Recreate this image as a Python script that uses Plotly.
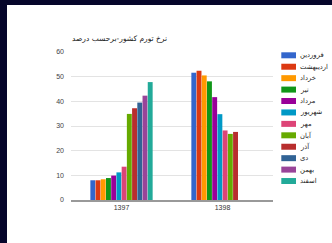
import plotly.graph_objects as go

categories = ["1397", "1398"]
months = ["فروردین", "اردیبهشت", "خرداد", "تیر", "مرداد", "شهریور",
          "مهر", "آبان", "آذر", "دی", "بهمن", "اسفند"]
values_1397 = [8.0, 8.0, 8.4, 8.9, 9.9, 11.2, 13.5, 34.9, 37.2, 39.5, 42.3, 47.8]
values_1398 = [51.6, 52.4, 50.5, 48.1, 41.7, 34.8, 28.2, 26.8, 27.6, None, None, None]
colors = ["#3366cc", "#dc3912", "#ff9900", "#109618", "#990099", "#0099c6",
          "#dd4477", "#66aa00", "#b82e2e", "#316395", "#994499", "#22aa99"]
title_text = "نرخ تورم کشور-برحسب درصد"
y_ticks = [0, 10, 20, 30, 40, 50, 60]

W, H = 332, 243
L, R, T, B = 71, 59, 52, 43
pw, ph = W - L - R, H - T - B


def px(x):
    return (x - L) / pw


def py(y):
    return (H - B - y) / ph


fig = go.Figure()
for i, m in enumerate(months):
    fig.add_trace(go.Bar(
        x=categories, y=[values_1397[i], values_1398[i]], name=m,
        marker=dict(color=colors[i], line=dict(width=0)),
        showlegend=False, hoverinfo="skip"))

shapes = [
    dict(type="rect", xref="paper", yref="paper", x0=px(0), x1=px(W), y0=py(5), y1=py(0),
         fillcolor="#06062b", line=dict(width=0), layer="below"),
    dict(type="rect", xref="paper", yref="paper", x0=px(0), x1=px(7), y0=py(H), y1=py(0),
         fillcolor="#06062b", line=dict(width=0), layer="below"),
]
annotations = [
    dict(text=title_text, xref="paper", yref="paper", x=px(70), y=py(38),
         xanchor="left", yanchor="middle", showarrow=False,
         font=dict(family="DejaVu Sans", size=7.5, color="#222222")),
]
for i, m in enumerate(months):
    cy = 55.3 + i * 11.43
    shapes.append(dict(type="rect", xref="paper", yref="paper",
                       x0=px(281.3), x1=px(296), y0=py(cy - 3), y1=py(cy + 3),
                       fillcolor=colors[i], line=dict(width=0)))
    annotations.append(dict(text=m, xref="paper", yref="paper", x=px(298), y=py(cy),
                            xanchor="left", yanchor="middle", showarrow=False,
                            font=dict(family="DejaVu Sans", size=6.8, color="#222222")))

fig.update_layout(
    width=W, height=H,
    margin=dict(l=L, r=R, t=T, b=B, pad=0),
    paper_bgcolor="white", plot_bgcolor="rgba(0,0,0,0)",
    barmode="group", bargap=0.38, bargroupgap=0.06,
    shapes=shapes, annotations=annotations,
    xaxis=dict(showgrid=False, showline=True, linecolor="#999999", linewidth=2,
               ticks="", tickfont=dict(family="Liberation Sans", size=7, color="#333333"),
               fixedrange=True),
    yaxis=dict(range=[0, 60], tickvals=y_ticks, showgrid=True, gridcolor="#e3e3e3",
               gridwidth=1, zeroline=False, showline=False, ticks="",
               ticklabelstandoff=6,
               tickfont=dict(family="Liberation Sans", size=7, color="#444444"),
               fixedrange=True),
    showlegend=False,
)

fig.write_html(
    "out.html", config={"displayModeBar": False},
    post_script=("document.body.style.margin='0';document.body.style.overflow='hidden';"
                 "document.documentElement.style.overflow='hidden';"
                 "document.documentElement.style.background='white';"
                 "document.body.style.background='white';"))
